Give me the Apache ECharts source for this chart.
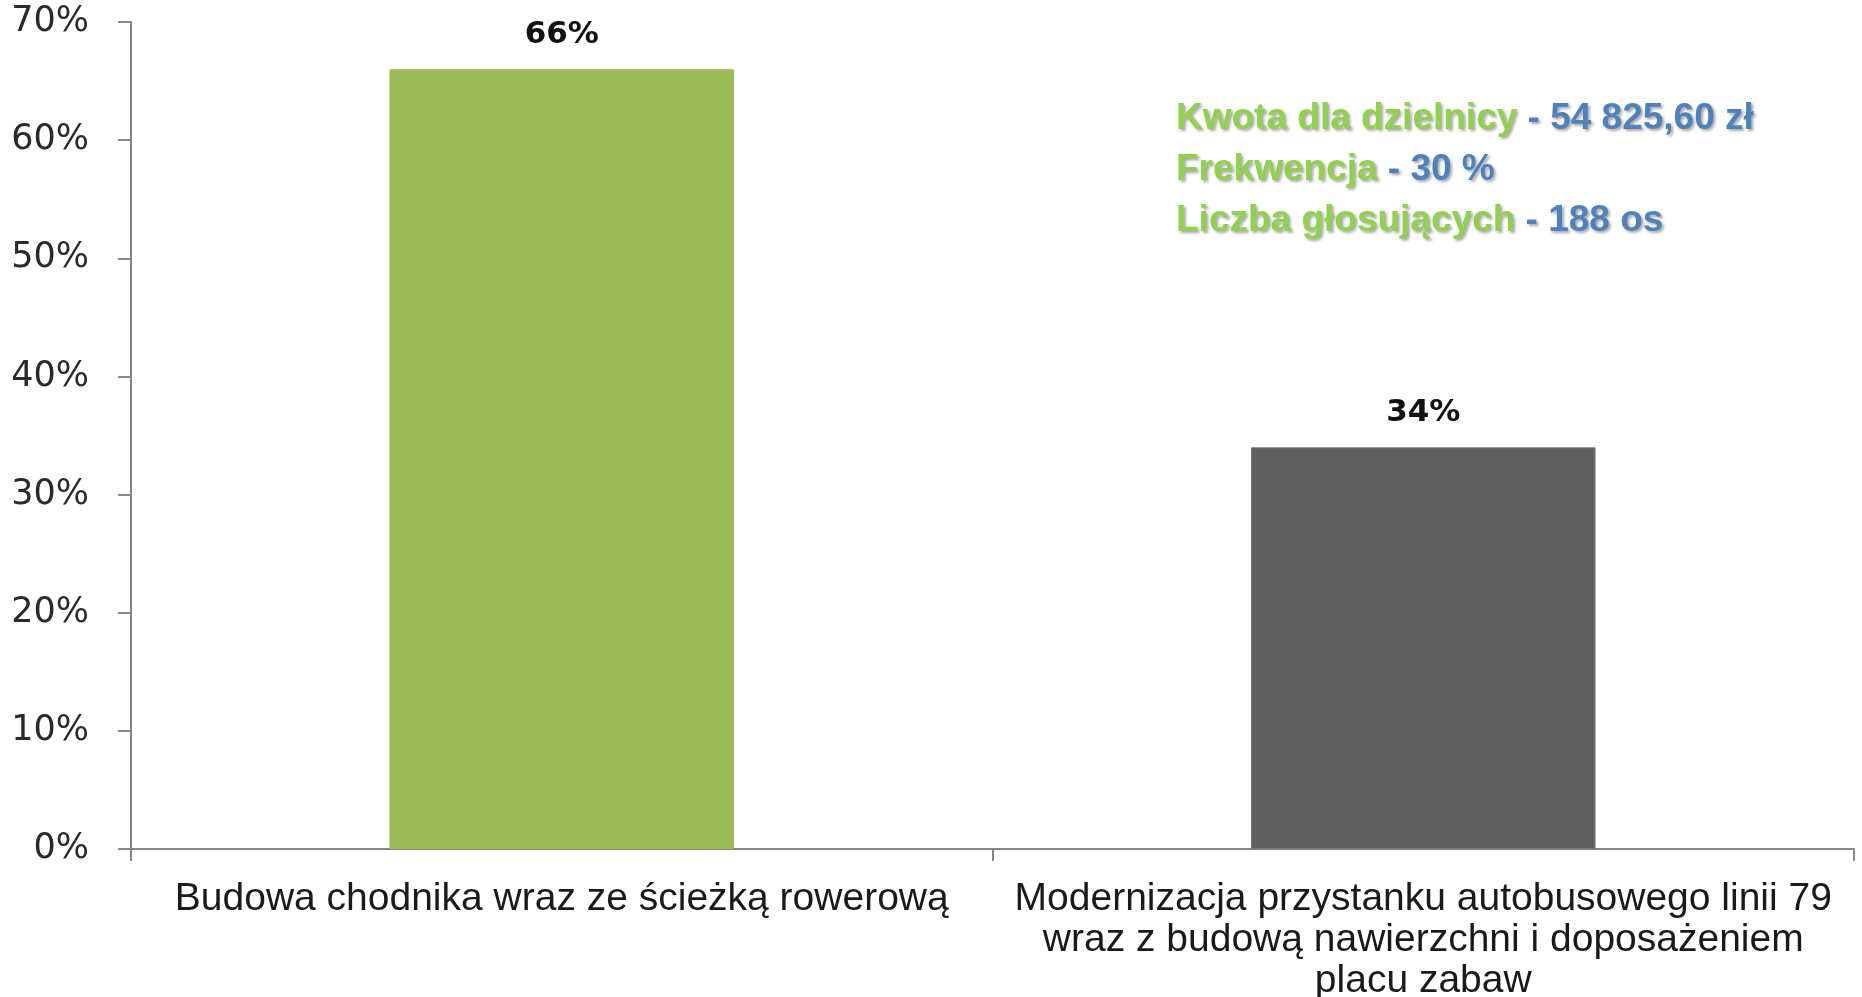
<!DOCTYPE html>
<html lang="pl">
<head>
    <meta charset="UTF-8">
    <title>Budżet obywatelski - wyniki</title>
    <script src="https://cdn.jsdelivr.net/npm/echarts@6/dist/echarts.min.js"></script>
    <style>
        html, body { margin: 0; padding: 0; background: #fff; }
        #chart1 { width: 1862px; height: 997px; }
    </style>
</head>
<body>
<div id="chart1"></div>
<script type="text/javascript">
    // dane
    var categories = [
        'Budowa chodnika wraz ze ścieżką rowerową',
        'Modernizacja przystanku autobusowego linii 79\nwraz z budową nawierzchni i doposażeniem\nplacu zabaw'
    ];
    var votes = [66, 34];
    var barColors = ['#9BBB59', '#606060'];
    var infoLabels = ['Kwota dla dzielnicy', 'Frekwencja', 'Liczba głosujących'];
    var infoValues = ['54 825,60 zł', '30 %', '188 os'];

    var narrow = '"Liberation Sans Narrow", "Liberation Sans", sans-serif';

    var myChart1 = echarts.init(document.getElementById('chart1'));

    var infoText = infoLabels.map(function (l, i) {
        return '{g|' + l + '}{b| - ' + infoValues[i] + '}';
    }).join('\n');

    var shadow = { textShadowColor: 'rgba(0,0,0,0.35)', textShadowOffsetX: 2, textShadowOffsetY: 2, textShadowBlur: 3 };

    myChart1.setOption({
        animation: false,
        grid: { left: 131, right: 8, top: 22, bottom: 148, outerBoundsMode: 'none', containLabel: false },
        xAxis: {
            type: 'category',
            data: categories,
            axisLine: { lineStyle: { color: '#868686', width: 2 } },
            axisTick: { show: true, length: 12, lineStyle: { color: '#868686', width: 2 } },
            axisLabel: {
                interval: 0,
                margin: 30,
                fontFamily: narrow,
                fontSize: 39,
                lineHeight: 41,
                color: '#1a1a1a'
            }
        },
        yAxis: {
            type: 'value',
            min: 0,
            max: 70,
            interval: 10,
            splitLine: { show: false },
            axisLine: { show: true, lineStyle: { color: '#868686', width: 2 } },
            axisTick: { show: true, length: 13, lineStyle: { color: '#868686', width: 2 } },
            axisLabel: {
                formatter: '{value}%',
                margin: 42,
                fontFamily: 'DejaVu Sans',
                fontSize: 35,
                color: '#2a2a2a'
            }
        },
        series: [{
            type: 'bar',
            barWidth: '40%',
            data: votes.map(function (v, i) {
                return { value: v, itemStyle: { color: barColors[i], borderColor: i ? '#7a7a7a' : '#9BBB59', borderWidth: 1 } };
            }),
            label: {
                show: true,
                position: 'top',
                distance: 19,
                formatter: '{c}%',
                fontFamily: 'DejaVu Sans',
                fontWeight: 'bold',
                fontSize: 31,
                color: '#111'
            }
        }],
        graphic: [{
            type: 'text',
            left: 1176,
            top: 100,
            style: {
                text: infoText,
                rich: {
                    g: Object.assign({
                        fontFamily: narrow, fontWeight: 'bold', fontSize: 37, lineHeight: 51,
                        fill: '#92D050'
                    }, shadow),
                    b: Object.assign({
                        fontFamily: narrow, fontWeight: 'bold', fontSize: 37, lineHeight: 51,
                        fill: '#4F81BD'
                    }, shadow)
                }
            }
        }]
    });
</script>
</body>
</html>
